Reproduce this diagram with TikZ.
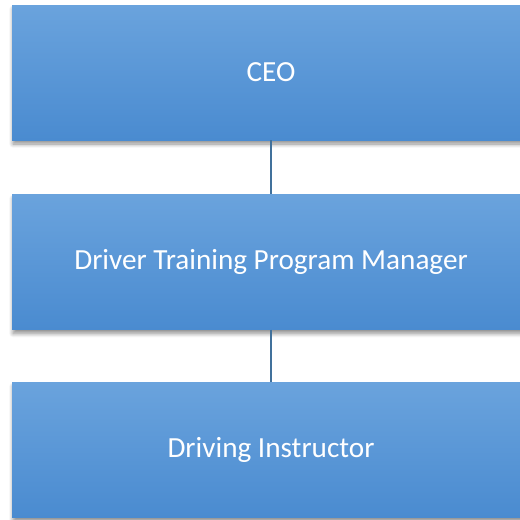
\documentclass[tikz,border=0pt]{standalone}
\usepackage{fontspec}
\setmainfont{Carlito}
\usetikzlibrary{shadows.blur}
\definecolor{boxtop}{HTML}{6AA3DD}
\definecolor{boxbot}{HTML}{4A8BD0}
\definecolor{linkc}{HTML}{41719C}
\tikzset{
  orgbox/.style={rectangle, minimum width=518pt, minimum height=135pt, inner sep=0pt,
    top color=boxtop, bottom color=boxbot, text=white,
    font=\fontsize{29.2}{34}\selectfont,
    blur shadow={shadow xshift=1pt, shadow yshift=-4pt, shadow blur radius=4pt, shadow blur steps=10, shadow opacity=45}},
  link/.style={draw=linkc, line width=2pt}
}
\begin{document}
\begin{tikzpicture}[x=1pt,y=1pt]
\useasboundingbox (0,0) rectangle (520,-520);
\node[orgbox] (ceo) at (271,-72.5) {CEO};
\node[orgbox] (mgr) at (271,-262) {Driver Training Program Manager};
\node[orgbox] (ins) at (271,-450) {Driving Instructor};
\draw[link] (ceo.south) -- (mgr.north);
\draw[link] (mgr.south) -- (ins.north);
\end{tikzpicture}
\end{document}
